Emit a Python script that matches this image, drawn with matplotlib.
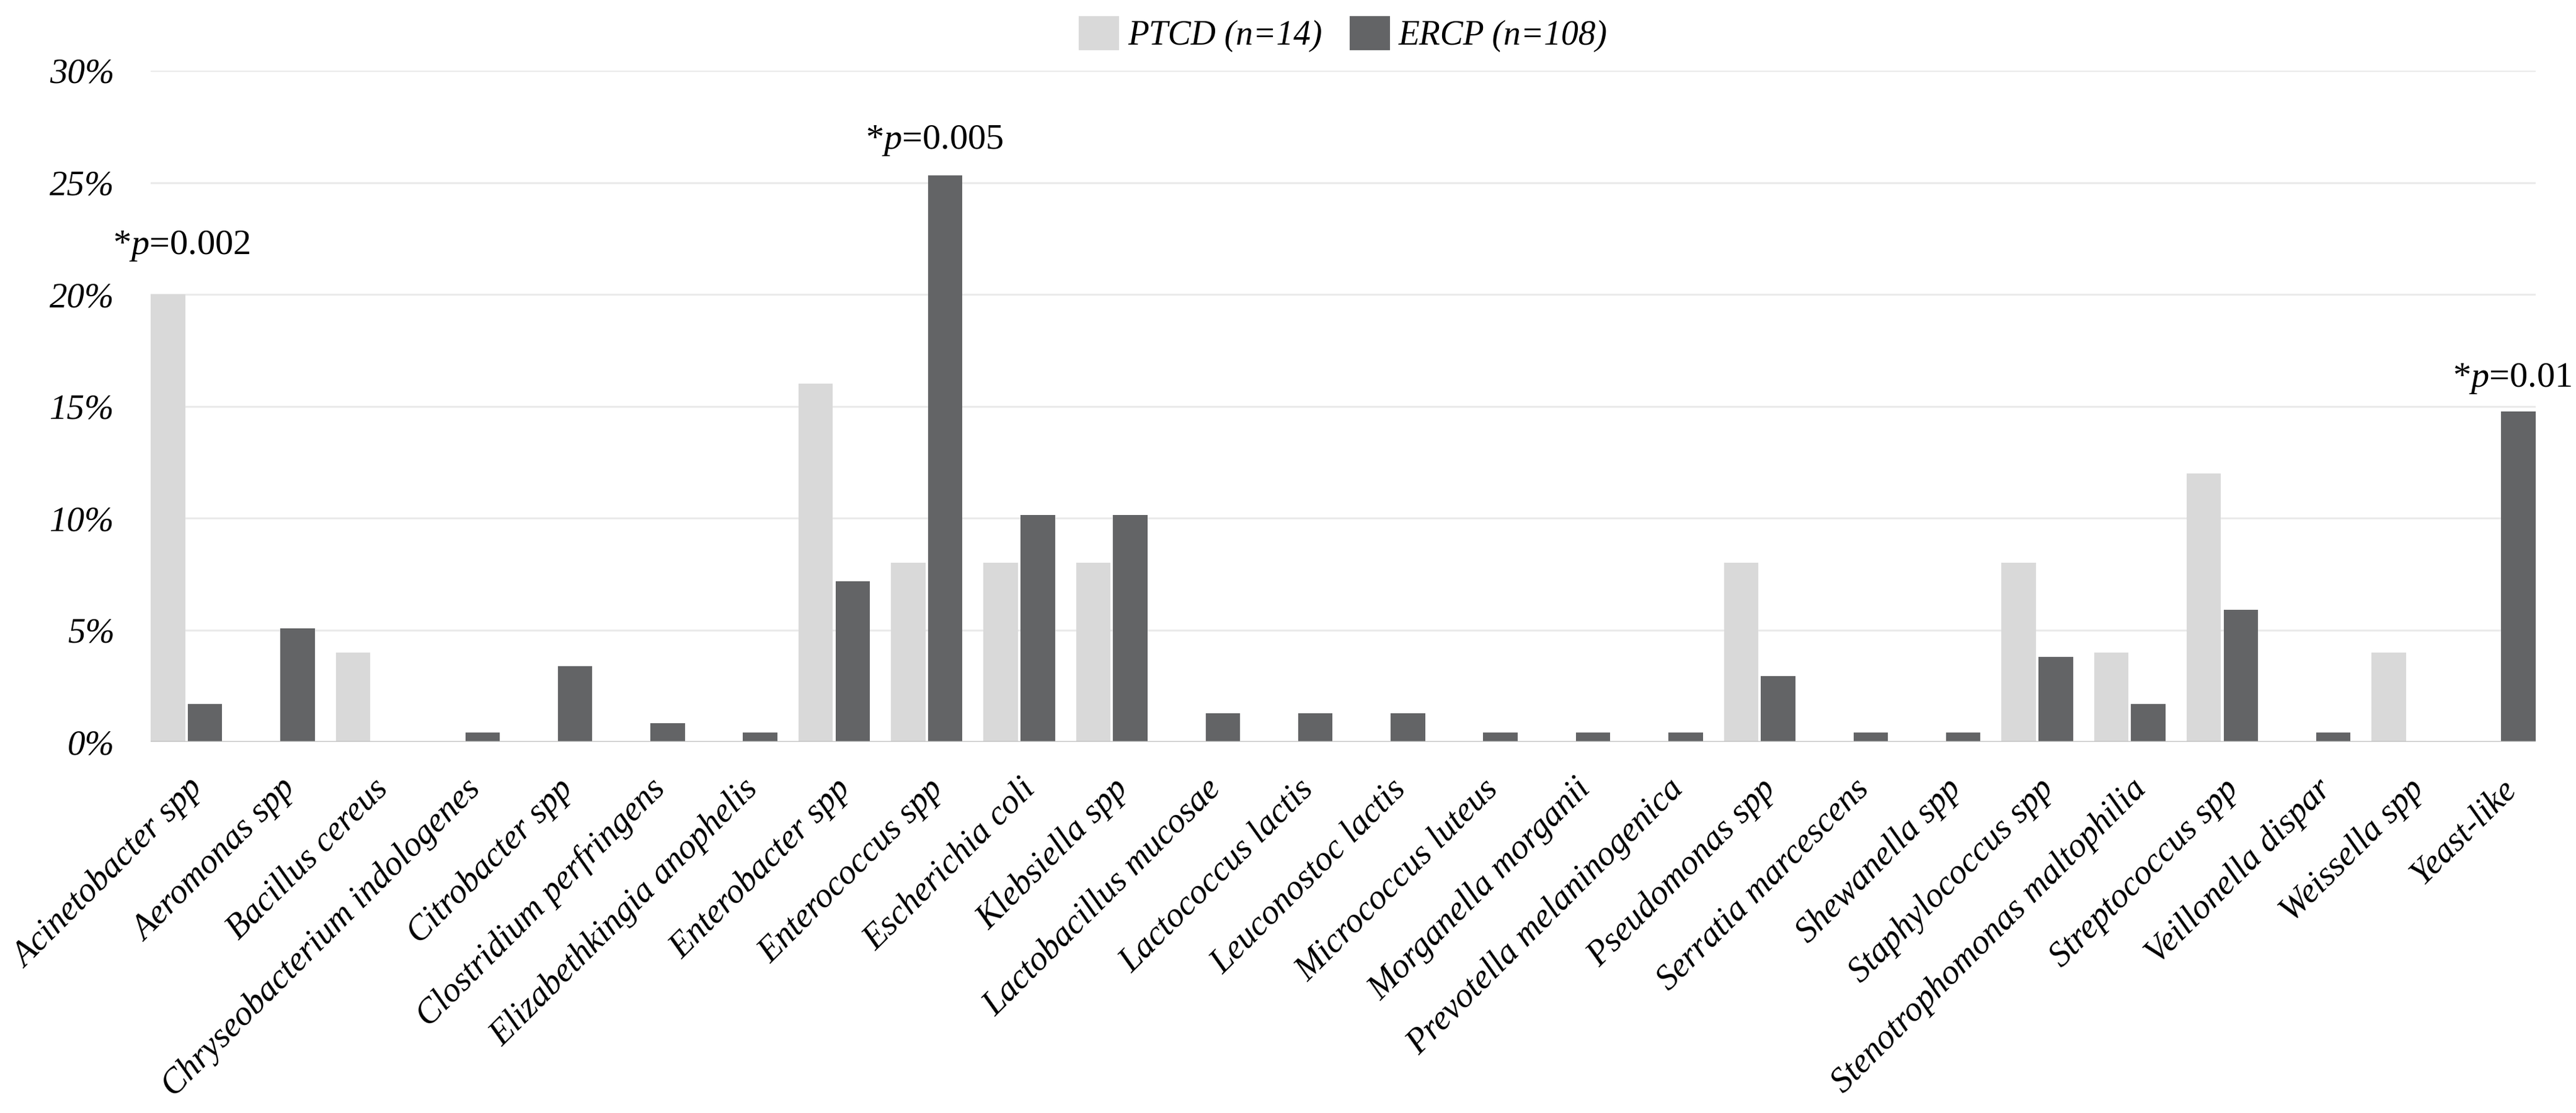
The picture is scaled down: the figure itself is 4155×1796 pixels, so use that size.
import matplotlib
matplotlib.use('Agg')
import matplotlib.pyplot as plt
import numpy as np

categories = ["Acinetobacter spp", "Aeromonas spp", "Bacillus cereus",
              "Chryseobacterium indologenes", "Citrobacter spp", "Clostridium perfringens",
              "Elizabethkingia anophelis", "Enterobacter spp", "Enterococcus spp",
              "Escherichia coli", "Klebsiella spp", "Lactobacillus mucosae",
              "Lactococcus lactis", "Leuconostoc lactis", "Micrococcus luteus",
              "Morganella morganii", "Prevotella melaninogenica", "Pseudomonas spp",
              "Serratia marcescens", "Shewanella spp", "Staphylococcus spp",
              "Stenotrophomonas maltophilia", "Streptococcus spp", "Veillonella dispar",
              "Weissella spp", "Yeast-like"]
ptcd = [20, 0, 4, 0, 0, 0, 0, 16, 8, 8, 8, 0, 0, 0, 0, 0, 0, 8, 0, 0, 8, 4, 12, 0, 4, 0]
ercp = [1.69, 5.06, 0, 0.42, 3.38, 0.84, 0.42, 7.17, 25.32, 10.13, 10.13, 1.27, 1.27,
        1.27, 0.42, 0.42, 0.42, 2.95, 0.42, 0.42, 3.80, 1.69, 5.91, 0.42, 0, 14.77]
series_labels = ["PTCD (n=14)", "ERCP (n=108)"]
yticks = [0, 5, 10, 15, 20, 25, 30]
sig_idx = [0, 8, 25]
sig_p = ["0.002", "0.005", "0.01"]

plt.rcParams['font.family'] = ['Liberation Serif', 'DejaVu Serif']
plt.rcParams['mathtext.fontset'] = 'custom'
plt.rcParams['mathtext.it'] = 'Liberation Serif:italic'
plt.rcParams['mathtext.rm'] = 'Liberation Serif'

W, H = 4155, 1796
dpi = 100
fig = plt.figure(figsize=(W / dpi, H / dpi), dpi=dpi)
ax = fig.add_axes([243 / W, 1 - 1197 / H, (4090 - 243) / W, (1197 - 114) / H])

x = np.arange(len(categories))
bw = 0.372
off = 0.2
c_ptcd = '#D9D9D9'
c_ercp = '#636466'
ax.bar(x - off, ptcd, width=bw, color=c_ptcd, label=series_labels[0], zorder=3)
ax.bar(x + off, ercp, width=bw, color=c_ercp, label=series_labels[1], zorder=3)

ax.set_xlim(-off - bw / 2, len(categories) - 1 + off + bw / 2)
ax.set_ylim(0, 30)
ax.set_yticks(yticks)
ax.set_yticklabels([f"{v}%" for v in yticks], fontsize=41, style='italic')
ax.yaxis.grid(True, color='#EAEAEA', linewidth=2.2, zorder=0)
ax.set_axisbelow(True)
for s in ax.spines.values():
    s.set_visible(False)
ax.axhline(0, color='#BFBFBF', linewidth=2.5, zorder=4)
ax.tick_params(axis='both', length=0)
ax.tick_params(axis='y', pad=42)

ax.set_xticks(x)
ax.set_xticklabels(categories, rotation=45, ha='right', rotation_mode='anchor',
                   fontsize=40.5, style='italic')
ax.tick_params(axis='x', pad=36)

sig_dx = [-0.05, 0.08, 0.13]
sig_dy = [1.8, 1.2, 1.1]
for k, i in enumerate(sig_idx):
    top = max(ptcd[i], ercp[i])
    ax.text(i + sig_dx[k], top + sig_dy[k], r"*$\mathit{p}$=" + sig_p[k],
            ha='center', va='baseline', fontsize=42, clip_on=False)

leg = fig.legend(loc='center', bbox_to_anchor=((243 + 4090) / 2 / W, 1 - 55 / H),
                 ncol=2, frameon=False, prop={'size': 40, 'style': 'italic'},
                 handlelength=1.17, handleheight=1.17, handletextpad=0.25,
                 columnspacing=0.8)

fig.savefig('out.png', dpi=dpi, facecolor='white')
